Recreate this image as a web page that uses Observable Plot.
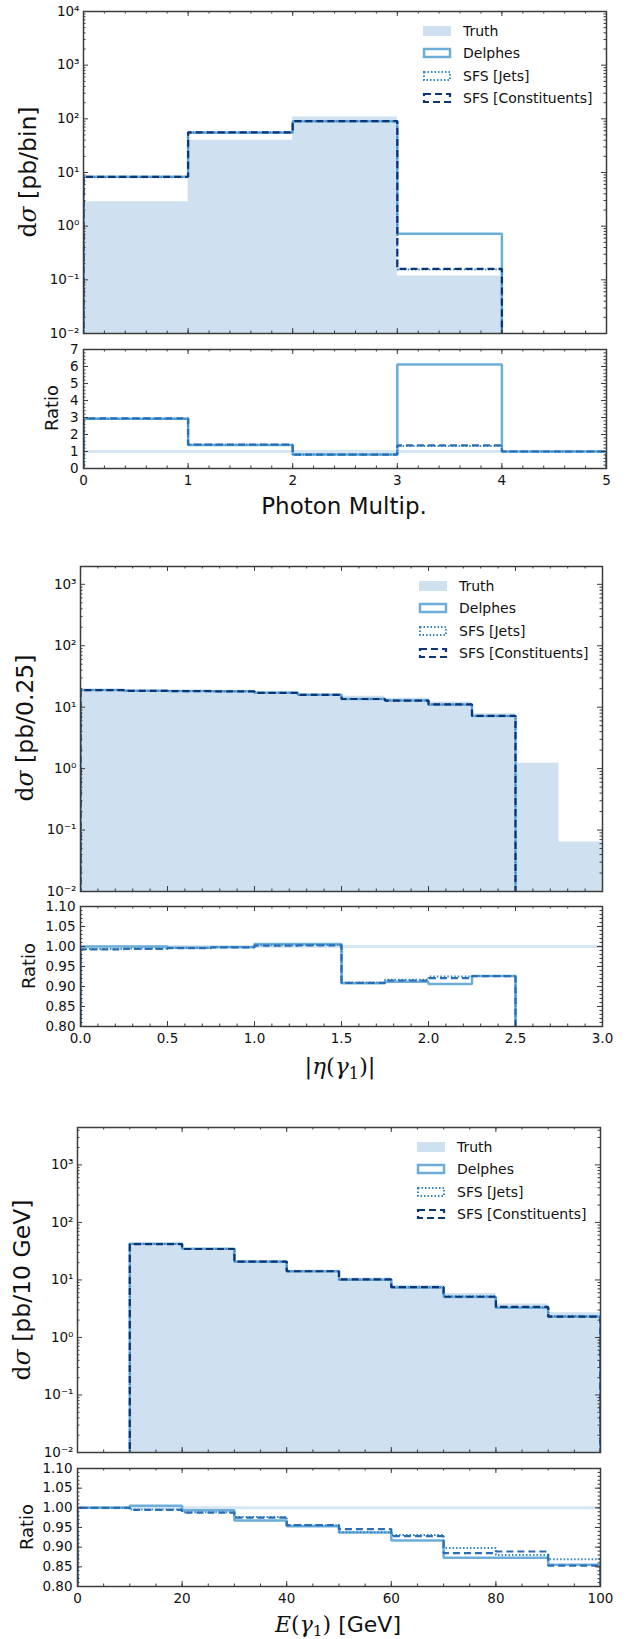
<!DOCTYPE html>
<html><head><meta charset="utf-8">
<script src="https://cdn.jsdelivr.net/npm/d3@7"></script>
<script src="https://cdn.jsdelivr.net/npm/@observablehq/plot@0.6"></script>
<style>
body{margin:0;background:#fff;}
#root{position:relative;width:626px;height:1639px;overflow:hidden;font-family:"DejaVu Sans",sans-serif;color:#111;}
.ylab{position:absolute;white-space:nowrap;transform:translate(-50%,-50%) rotate(-90deg);line-height:1;}
.xlab{position:absolute;white-space:nowrap;transform:translate(-50%,-50%);line-height:1;}
.math{font-family:"DejaVu Serif","Liberation Serif",serif;}
.sub{position:relative;top:0.28em;font-size:0.7em;}
.leg{position:absolute;font-size:14px;line-height:1;}
.leg .row{position:absolute;left:0;white-space:nowrap;height:12px;}
.leg svg{position:absolute;left:0;top:0;}
.leg span{position:absolute;left:41px;top:-1px;}
</style></head><body><div id="root"></div>
<script>
// ---------- data ----------
const seriesNames = ["Truth", "Delphes", "SFS [Jets]", "SFS [Constituents]"];

// Panel 1: photon multiplicity
const edges1 = [0, 1, 2, 3, 4, 5];
const truth1 = [2.85, 40, 108, 0.118, 0];
const delphes1 = [8.3, 55, 90, 0.72, 0];
const jets1 = [8.2, 56, 90, 0.155, 0];
const const1 = [8.3, 56, 91, 0.16, 0];
const ratioDelphes1 = [2.92, 1.38, 0.82, 6.12, 1.0];
const ratioJets1 = [2.92, 1.40, 0.82, 1.32, 1.0];
const ratioConst1 = [2.95, 1.40, 0.82, 1.36, 1.0];
const xTicks1 = [0, 1, 2, 3, 4, 5];
const yTicksMain1 = [1e-2, 1e-1, 1e0, 1e1, 1e2, 1e3, 1e4];
const yTicksRatio1 = [0, 1, 2, 3, 4, 5, 6, 7];

// Panel 2: |eta(gamma1)|
const edges2 = [0, 0.25, 0.5, 0.75, 1.0, 1.25, 1.5, 1.75, 2.0, 2.25, 2.5, 2.75, 3.0];
const truth2 = [19.1, 18.6, 18.4, 18.2, 17.1, 15.9, 15.0, 14.0, 12.1, 7.8, 1.22, 0.064];
const delphes2 = [19.1, 18.6, 18.3, 18.2, 17.2, 16.0, 13.6, 12.8, 11.0, 7.2, 0, 0];
const jets2 = [19.0, 18.5, 18.3, 18.2, 17.15, 15.95, 13.65, 12.85, 11.2, 7.2, 0, 0];
const const2 = [18.97, 18.5, 18.3, 18.15, 17.1, 15.9, 13.6, 12.8, 11.15, 7.2, 0, 0];
const ratioDelphes2 = [1.0, 1.0, 0.997, 0.998, 1.006, 1.006, 0.908, 0.912, 0.906, 0.926, 0, 0];
const ratioJets2 = [0.994, 0.995, 0.997, 0.999, 1.003, 1.004, 0.910, 0.917, 0.925, 0.926, 0, 0];
const ratioConst2 = [0.993, 0.994, 0.996, 0.998, 1.002, 1.003, 0.909, 0.915, 0.921, 0.926, 0, 0];
const xTicks2 = [0, 0.5, 1.0, 1.5, 2.0, 2.5, 3.0];
const yTicksMain2 = [1e-2, 1e-1, 1e0, 1e1, 1e2, 1e3];
const yTicksRatio2 = [0.80, 0.85, 0.90, 0.95, 1.00, 1.05, 1.10];

// Panel 3: E(gamma1)
const edges3 = [0, 10, 20, 30, 40, 50, 60, 70, 80, 90, 100];
const truth3 = [0, 42.2, 34.9, 21.4, 14.8, 10.8, 8.1, 5.8, 3.8, 2.7];
const delphes3 = [0, 42.4, 34.7, 20.7, 14.1, 10.1, 7.4, 5.05, 3.3, 2.3];
const jets3 = [0, 42.0, 34.5, 20.9, 14.15, 10.1, 7.5, 5.2, 3.35, 2.35];
const const3 = [0, 42.0, 34.5, 20.9, 14.15, 10.2, 7.5, 5.1, 3.4, 2.3];
const ratioDelphes3 = [1.0, 1.005, 0.994, 0.968, 0.953, 0.937, 0.917, 0.873, 0.873, 0.855];
const ratioJets3 = [1.0, 0.996, 0.989, 0.977, 0.956, 0.938, 0.931, 0.898, 0.880, 0.869];
const ratioConst3 = [1.0, 0.995, 0.988, 0.975, 0.956, 0.946, 0.928, 0.885, 0.889, 0.853];
const xTicks3 = [0, 20, 40, 60, 80, 100];
const yTicksMain3 = [1e-2, 1e-1, 1e0, 1e1, 1e2, 1e3];
const yTicksRatio3 = [0.80, 0.85, 0.90, 0.95, 1.00, 1.05, 1.10];

// ---------- styles ----------
const FONT = '"DejaVu Sans", sans-serif';
const FRAME = "#3c3c3c";
const TRUTH_FILL = "#cfe0f0";
const TRUTH_LINE = "#d6e6f4";
const C_DELPHES = "#6caed8";
const C_JETS = "#3487c8";
const C_CONST = "#0d3474";
const C_CONST_RATIO = "#2a6fb5";
const root = document.getElementById("root");

const SUP = {"-": "\u207b", "0": "\u2070", "1": "\u00b9", "2": "\u00b2", "3": "\u00b3", "4": "\u2074", "5": "\u2075"};
const fmtPow = v => "10" + String(Math.round(Math.log10(v))).split("").map(c => SUP[c]).join("");

function steps(edges, vals, floor) {
  const pts = [{x: edges[0], y: floor}];
  vals.forEach((v, i) => {
    const y = v > 0 ? v : floor;
    pts.push({x: edges[i], y}, {x: edges[i + 1], y});
  });
  pts.push({x: edges[edges.length - 1], y: floor});
  return pts;
}
function range(a, b, s) { const out = []; const n = Math.round((b - a) / s); for (let i = 0; i <= n; i++) out.push(+(a + i * s).toFixed(6)); return out; }
function logMinor(lo, hi) {
  const out = [];
  for (let k = Math.floor(Math.log10(lo)); k <= Math.ceil(Math.log10(hi)); k++)
    for (let m = 2; m <= 9; m++) { const v = m * Math.pow(10, k); if (v > lo && v < hi) out.push(v); }
  return out;
}
function ticksX(vals, len, fh) {
  return [
    Plot.tickX(vals, {x: d => d, insetTop: fh - len, stroke: FRAME, strokeWidth: 1}),
    Plot.tickX(vals, {x: d => d, insetBottom: fh - len, stroke: FRAME, strokeWidth: 1})
  ];
}
function ticksY(vals, len, fw) {
  return [
    Plot.tickY(vals, {y: d => d, insetRight: fw - len, stroke: FRAME, strokeWidth: 1}),
    Plot.tickY(vals, {y: d => d, insetLeft: fw - len, stroke: FRAME, strokeWidth: 1})
  ];
}
function place(svg, left, top) {
  svg.style.position = "absolute";
  svg.style.left = left + "px";
  svg.style.top = top + "px";
  root.append(svg);
}
function label(cls, html, x, y, size) {
  const d = document.createElement("div");
  d.className = cls;
  d.innerHTML = html;
  d.style.left = x + "px";
  d.style.top = y + "px";
  d.style.fontSize = size + "px";
  root.append(d);
}
function legend(right, top) {
  const d = document.createElement("div");
  d.className = "leg";
  d.style.left = (right - 184) + "px";
  d.style.top = (top + 14) + "px";
  const sw = [
    `<rect x="1" y="1" width="28" height="10" fill="${TRUTH_FILL}"/>`,
    `<rect x="2" y="2" width="26" height="8" fill="none" stroke="${C_DELPHES}" stroke-width="2.5"/>`,
    `<rect x="2" y="2" width="26" height="8" fill="none" stroke="${C_JETS}" stroke-width="2" stroke-dasharray="1.5,2"/>`,
    `<rect x="2" y="2" width="26" height="8" fill="none" stroke="${C_CONST}" stroke-width="2.2" stroke-dasharray="7,4"/>`
  ];
  seriesNames.forEach((n, i) => {
    const r = document.createElement("div");
    r.className = "row";
    r.style.top = (i * 22.3) + "px";
    r.innerHTML = `<svg width="31" height="12">${sw[i]}</svg><span>${n}</span>`;
    d.append(r);
  });
  root.append(d);
}

function panel(cfg) {
  const {L, R, mainTop, mainBot, ratTop, ratBot, xDomain, xMinor, xTicks, xFmt,
         yMain, yTicksMain, edges, truth, delphes, jets, cons,
         rDomain, rTicks, rMinor, rFmt, rD, rJ, rC} = cfg;
  const fw = R - L;
  const fh = mainBot - mainTop;
  const ml = 62, mr = 4, mt = 6, mb = 4;
  const floor = 1e-6;
  const lineOpts = {x: "x", y: "y", clip: true, strokeLinejoin: "miter", strokeLinecap: "butt"};
  const main = Plot.plot({
    width: fw + ml + mr, height: fh + mt + mb,
    marginLeft: ml, marginRight: mr, marginTop: mt, marginBottom: mb,
    x: {domain: xDomain, axis: null},
    y: {type: "log", domain: yMain},
    style: {fontFamily: FONT, fontSize: "13.5px", color: "#111", background: "transparent", overflow: "visible"},
    marks: [
      Plot.areaY(steps(edges, truth, floor), {x: "x", y1: () => yMain[0], y2: "y", fill: TRUTH_FILL, clip: true}),
      Plot.line(steps(edges, delphes, floor), {...lineOpts, stroke: C_DELPHES, strokeWidth: 2.5}),
      Plot.line(steps(edges, jets, floor), {...lineOpts, stroke: C_JETS, strokeWidth: 2, strokeDasharray: "1.5,2"}),
      Plot.line(steps(edges, cons, floor), {...lineOpts, stroke: C_CONST, strokeWidth: 2.2, strokeDasharray: "7,4"}),
      ...ticksX(xTicks, 5, fh), ...ticksX(xMinor, 2.5, fh),
      ...ticksY(yTicksMain, 5, fw), ...ticksY(logMinor(yMain[0], yMain[1]), 2.5, fw),
      Plot.axisY({ticks: yTicksMain, tickFormat: fmtPow, tickSize: 0, tickPadding: 4, label: null, fill: "#111"}),
      Plot.frame({stroke: FRAME, strokeWidth: 1.5})
    ]
  });
  place(main, L - ml, mainTop - mt);

  const rh = ratBot - ratTop;
  const rmb = 30;
  const ratio = Plot.plot({
    width: fw + ml + mr, height: rh + mt + rmb,
    marginLeft: ml, marginRight: mr, marginTop: mt, marginBottom: rmb,
    x: {domain: xDomain},
    y: {domain: rDomain},
    style: {fontFamily: FONT, fontSize: "13.5px", color: "#111", background: "transparent", overflow: "visible"},
    marks: [
      Plot.line(steps(edges, edges.slice(1).map(() => 1), 1), {...lineOpts, stroke: TRUTH_LINE, strokeWidth: 3}),
      Plot.line(steps(edges, rD, 0), {...lineOpts, stroke: C_DELPHES, strokeWidth: 2.5}),
      Plot.line(steps(edges, rJ, 0), {...lineOpts, stroke: C_JETS, strokeWidth: 2, strokeDasharray: "1.5,2"}),
      Plot.line(steps(edges, rC, 0), {...lineOpts, stroke: C_CONST_RATIO, strokeWidth: 2.2, strokeDasharray: "7,4"}),
      ...ticksX(xTicks, 5, rh), ...ticksX(xMinor, 2.5, rh),
      ...ticksY(rTicks, 5, fw), ...ticksY(rMinor, 2.5, fw),
      Plot.axisY({ticks: rTicks, tickFormat: rFmt, tickSize: 0, tickPadding: 5, label: null, fill: "#111"}),
      Plot.axisX({ticks: xTicks, tickFormat: xFmt, tickSize: 0, tickPadding: 7, label: null, fill: "#111"}),
      Plot.frame({stroke: FRAME, strokeWidth: 1.5})
    ]
  });
  place(ratio, L - ml, ratTop - mt);
  legend(R, mainTop);
}

panel({L: 83, R: 606, mainTop: 11, mainBot: 333, ratTop: 349, ratBot: 468,
  xDomain: [0, 5], xMinor: range(0, 5, 0.2), xTicks: xTicks1, xFmt: d3.format("d"),
  yMain: [1e-2, 1e4], yTicksMain: yTicksMain1, edges: edges1, truth: truth1, delphes: delphes1, jets: jets1, cons: const1,
  rDomain: [0, 7], rTicks: yTicksRatio1, rMinor: range(0, 7, 0.2), rFmt: d3.format("d"),
  rD: ratioDelphes1, rJ: ratioJets1, rC: ratioConst1});
panel({L: 80, R: 602, mainTop: 566, mainBot: 891, ratTop: 906, ratBot: 1026,
  xDomain: [0, 3], xMinor: range(0, 3, 0.1), xTicks: xTicks2, xFmt: d3.format(".1f"),
  yMain: [1e-2, 1950], yTicksMain: yTicksMain2, edges: edges2, truth: truth2, delphes: delphes2, jets: jets2, cons: const2,
  rDomain: [0.8, 1.1], rTicks: yTicksRatio2, rMinor: range(0.8, 1.1, 0.01), rFmt: d3.format(".2f"),
  rD: ratioDelphes2, rJ: ratioJets2, rC: ratioConst2});
panel({L: 77, R: 600, mainTop: 1127, mainBot: 1452, ratTop: 1468, ratBot: 1586,
  xDomain: [0, 100], xMinor: range(0, 100, 5), xTicks: xTicks3, xFmt: d3.format("d"),
  yMain: [1e-2, 4470], yTicksMain: yTicksMain3, edges: edges3, truth: truth3, delphes: delphes3, jets: jets3, cons: const3,
  rDomain: [0.8, 1.1], rTicks: yTicksRatio3, rMinor: range(0.8, 1.1, 0.01), rFmt: d3.format(".2f"),
  rD: ratioDelphes3, rJ: ratioJets3, rC: ratioConst3});

// axis titles
label("ylab", '<span class="math">d<i>σ</i></span> [pb/bin]', 29, 172, 23.5);
label("ylab", "Ratio", 52, 408, 18);
label("xlab", "Photon Multip.", 344, 506, 23);
label("ylab", '<span class="math">d<i>σ</i></span> [pb/0.25]', 26, 728, 23.5);
label("ylab", "Ratio", 28.5, 966, 18);
label("xlab", '<span class="math">|<i>η</i>(<i>γ</i><span class="sub">1</span>)|</span>', 340, 1066, 23);
label("ylab", '<span class="math">d<i>σ</i></span> [pb/10 GeV]', 23, 1290, 23.5);
label("ylab", "Ratio", 26.5, 1527, 18);
label("xlab", '<span class="math"><i>E</i>(<i>γ</i><span class="sub">1</span>)</span> [GeV]', 338, 1625, 22);
</script></body></html>
